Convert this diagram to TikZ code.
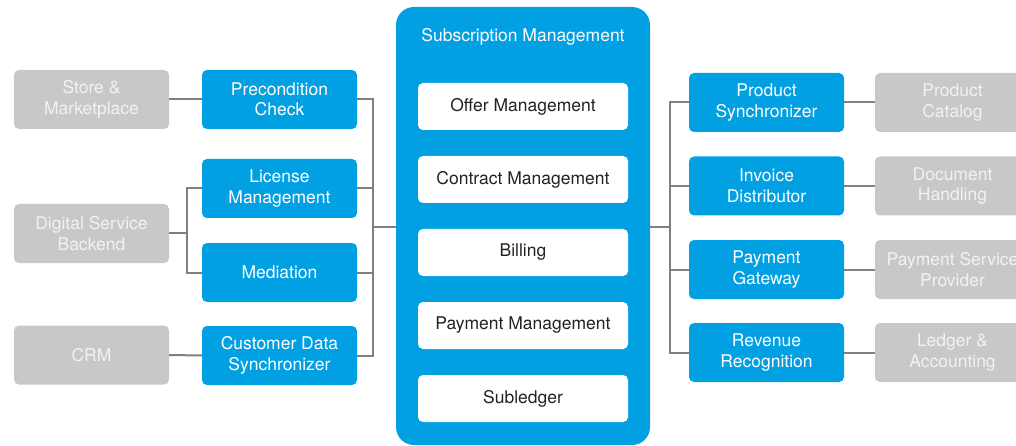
\documentclass[tikz,border=0pt]{standalone}
\usepackage{fontspec}
\setmainfont{TeX Gyre Heros}
\definecolor{cblue}{RGB}{0,160,227}
\definecolor{cgray}{RGB}{200,200,200}
\definecolor{cgtext}{RGB}{242,242,242}
\definecolor{cline}{RGB}{128,128,128}
\definecolor{cdark}{RGB}{35,35,35}
\begin{document}
\begin{tikzpicture}[x=1pt,y=-1pt,
  every node/.style={font=\fontsize{17.5}{20.5}\selectfont, align=center, inner sep=0pt},
  bluebox/.style={fill=cblue, text=white, rounded corners=5pt, minimum width=155pt, minimum height=59pt},
  graybox/.style={fill=cgray, text=cgtext, rounded corners=5pt, minimum width=155pt, minimum height=59pt},
  whitebox/.style={fill=white, text=cdark, rounded corners=5pt, minimum width=210pt, minimum height=47pt},
  conn/.style={draw=cline, line width=2pt}]
\useasboundingbox (0,0) rectangle (1016,446);
\clip (0,0) rectangle (1016,446);
% center container
\node[fill=cblue, rounded corners=18pt, minimum width=254pt, minimum height=438pt] (sm) at (523,226) {};
\node[text=white] (smt) at (523,37) {Subscription Management};
\node[whitebox] (offer) at (523,106.5) {Offer Management};
\node[whitebox] (contract) at (523,179.5) {Contract Management};
\node[whitebox] (billing) at (523,252.5) {Billing};
\node[whitebox] (paymgmt) at (523,325.5) {Payment Management};
\node[whitebox] (subl) at (523,398.5) {Subledger};
% left side
\node[graybox] (store) at (91.5,99.5) {Store \&\\Marketplace};
\node[graybox] (dsb) at (91.5,233.5) {Digital Service\\Backend};
\node[graybox] (crm) at (91.5,355) {CRM};
\node[bluebox] (pre) at (279.5,99.5) {Precondition\\Check};
\node[bluebox] (lic) at (279.5,188.5) {License\\Management};
\node[bluebox] (med) at (279.5,272.5) {Mediation};
\node[bluebox] (cds) at (279.5,355.5) {Customer Data\\Synchronizer};
% right side
\node[bluebox] (ps) at (766.5,102.5) {Product\\Synchronizer};
\node[bluebox] (inv) at (766.5,186) {Invoice\\Distributor};
\node[bluebox] (pg) at (766.5,269.5) {Payment\\Gateway};
\node[bluebox] (rr) at (766.5,352.5) {Revenue\\Recognition};
\node[graybox] (pc) at (952.5,102.5) {Product\\Catalog};
\node[graybox] (dh) at (952.5,186) {Document\\Handling};
\node[graybox] (psp) at (952.5,269.5) {Payment Service\\Provider};
\node[graybox] (la) at (952.5,352.5) {Ledger \&\\Accounting};
% junctions
\coordinate (lj) at (373,227);
\coordinate (dj) at (187,233.5);
\coordinate (rj) at (670,227);
% connectors left
\draw[conn] (store.east) -- (pre.west);
\draw[conn] (crm.east) -- (cds.west);
\draw[conn] (dsb.east) -- (dj);
\draw[conn] (lic.west) -| (dj);
\draw[conn] (med.west) -| (dj);
\draw[conn] (pre.east) -| (lj);
\draw[conn] (lic.east) -| (lj);
\draw[conn] (med.east) -| (lj);
\draw[conn] (cds.east) -| (lj);
\draw[conn] (lj) -- (sm.west |- lj);
% connectors right
\draw[conn] (sm.east |- rj) -- (rj);
\draw[conn] (ps.west) -| (rj);
\draw[conn] (inv.west) -| (rj);
\draw[conn] (pg.west) -| (rj);
\draw[conn] (rr.west) -| (rj);
\draw[conn] (ps.east) -- (pc.west);
\draw[conn] (inv.east) -- (dh.west);
\draw[conn] (pg.east) -- (psp.west);
\draw[conn] (rr.east) -- (la.west);
\end{tikzpicture}
\end{document}
